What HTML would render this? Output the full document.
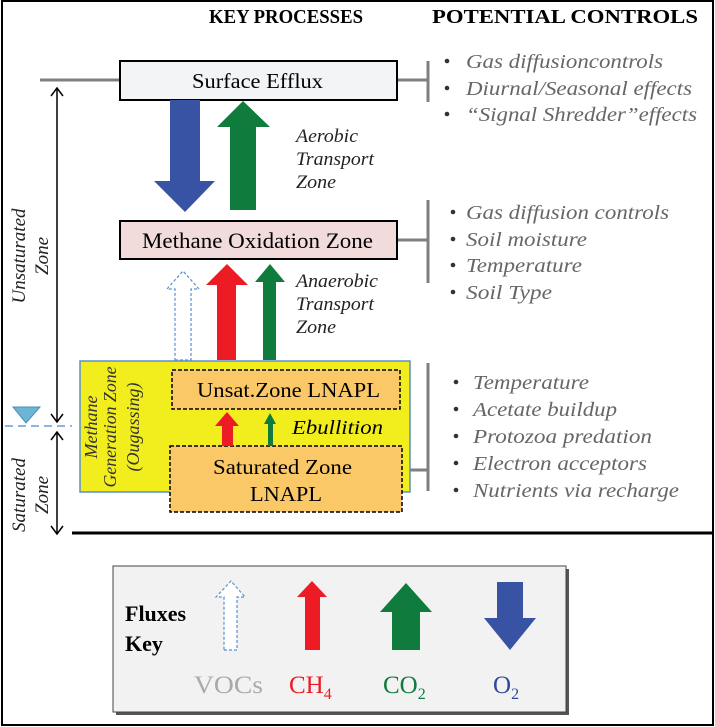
<!DOCTYPE html>
<html><head><meta charset="utf-8"><style>
html,body{margin:0;padding:0;background:#fff;}
svg{display:block;font-family:"Liberation Serif",serif;}
</style></head><body>
<svg width="715" height="727" viewBox="0 0 715 727">
<rect x="2" y="1" width="711" height="724" fill="#fff" stroke="#000" stroke-width="2"/>
<text x="209" y="23" font-size="20" font-weight="bold" textLength="154" lengthAdjust="spacingAndGlyphs">KEY PROCESSES</text>
<text x="432" y="23" font-size="20" font-weight="bold" textLength="266" lengthAdjust="spacingAndGlyphs">POTENTIAL CONTROLS</text>

<g stroke="#7f7f7f" stroke-width="3" fill="none">
<line x1="40" y1="80" x2="120" y2="80"/><line x1="397" y1="80" x2="428" y2="80"/><line x1="428" y1="61" x2="428" y2="102"/>
<line x1="397" y1="240" x2="428" y2="240"/><line x1="428" y1="200" x2="428" y2="283"/>
<line x1="410" y1="470" x2="428" y2="470"/><line x1="428" y1="363" x2="428" y2="491"/>
</g>

<rect x="120" y="61" width="277" height="39" fill="#f2f4f6" stroke="#000" stroke-width="2"/>
<text x="192" y="88" font-size="21" textLength="131" lengthAdjust="spacingAndGlyphs">Surface Efflux</text>

<polygon points="170,100 200,100 200,181 215,181 185,212 154,181 170,181" fill="#3953a4"/>
<polygon points="230,210 256,210 256,127 270,127 243,101 217,127 230,127" fill="#0f7c3d"/>
<g font-size="19" font-style="italic" fill="#222">
<text x="296" y="142" textLength="62" lengthAdjust="spacingAndGlyphs">Aerobic</text><text x="296" y="165" textLength="78" lengthAdjust="spacingAndGlyphs">Transport</text><text x="296" y="188" textLength="40" lengthAdjust="spacingAndGlyphs">Zone</text></g>

<rect x="120" y="221" width="277" height="38" fill="#f2dcdb" stroke="#000" stroke-width="2"/>
<text x="142" y="248" font-size="22" textLength="231" lengthAdjust="spacingAndGlyphs">Methane Oxidation Zone</text>

<polygon points="175,360 191,360 191,289 199,289 183,271 167,289 175,289" fill="#fff" stroke="#5b8fd1" stroke-width="1.2" stroke-dasharray="3,2"/>
<polygon points="217,360 236,360 236,285 248,285 227,264 206,285 217,285" fill="#ed1c24"/>
<polygon points="263,360 276,360 276,282 285,282 270,264 255,282 263,282" fill="#0f7c3d"/>
<g font-size="19" font-style="italic" fill="#222">
<text x="296" y="287" textLength="82" lengthAdjust="spacingAndGlyphs">Anaerobic</text><text x="296" y="310" textLength="78" lengthAdjust="spacingAndGlyphs">Transport</text><text x="296" y="333" textLength="40" lengthAdjust="spacingAndGlyphs">Zone</text></g>

<rect x="80" y="361" width="330" height="131" fill="#f2ee1e" stroke="#5b8fd1" stroke-width="1.5"/>
<g font-size="18" font-style="italic" fill="#333" text-anchor="middle" transform="translate(0,427) rotate(-90)">
<text x="0" y="97">Methane</text><text x="0" y="116" textLength="121" lengthAdjust="spacingAndGlyphs">Generation Zone</text><text x="0" y="139">(Ougassing)</text></g>
<rect x="172" y="370" width="228" height="39" fill="#fbc867" stroke="#000" stroke-width="1.5" stroke-dasharray="4,2"/>
<text x="197" y="397" font-size="21" textLength="183" lengthAdjust="spacingAndGlyphs">Unsat.Zone LNAPL</text>
<rect x="170" y="446" width="232" height="66" fill="#fbc867" stroke="#000" stroke-width="1.5" stroke-dasharray="4,2"/>
<text x="213" y="474" font-size="21" textLength="139" lengthAdjust="spacingAndGlyphs">Saturated Zone</text>
<text x="250" y="501" font-size="21" textLength="72" lengthAdjust="spacingAndGlyphs">LNAPL</text>
<polygon points="222,446 233,446 233,426 239,426 227,412 215,426 222,426" fill="#ed1c24"/>
<polygon points="268,446 273,446 273,424 276,424 270,413 264,424 268,424" fill="#0f7c3d"/>
<text x="292" y="434" font-size="20" font-style="italic" textLength="91" lengthAdjust="spacingAndGlyphs">Ebullition</text>

<g font-size="20" font-style="italic" fill="#666">
<text x="466" y="68" textLength="197" lengthAdjust="spacingAndGlyphs">Gas diffusioncontrols</text><text x="466" y="95" textLength="226" lengthAdjust="spacingAndGlyphs">Diurnal/Seasonal effects</text><text x="466" y="121" textLength="231" lengthAdjust="spacingAndGlyphs">“Signal Shredder”effects</text></g>
<g font-size="20" font-style="italic" fill="#666">
<text x="466" y="219" textLength="203" lengthAdjust="spacingAndGlyphs">Gas diffusion controls</text><text x="466" y="246" textLength="121" lengthAdjust="spacingAndGlyphs">Soil moisture</text><text x="466" y="272" textLength="116" lengthAdjust="spacingAndGlyphs">Temperature</text><text x="466" y="299" textLength="86" lengthAdjust="spacingAndGlyphs">Soil Type</text></g>
<g font-size="20" font-style="italic" fill="#666">
<text x="473" y="389" textLength="116" lengthAdjust="spacingAndGlyphs">Temperature</text><text x="473" y="416" textLength="144" lengthAdjust="spacingAndGlyphs">Acetate buildup</text><text x="473" y="443" textLength="179" lengthAdjust="spacingAndGlyphs">Protozoa predation</text><text x="473" y="470" textLength="174" lengthAdjust="spacingAndGlyphs">Electron acceptors</text><text x="473" y="497" textLength="206" lengthAdjust="spacingAndGlyphs">Nutrients via recharge</text></g>
<g fill="#333">
<circle cx="447" cy="61" r="2.3"/><circle cx="447" cy="88" r="2.3"/><circle cx="447" cy="114" r="2.3"/>
<circle cx="453" cy="212" r="2.3"/><circle cx="453" cy="239" r="2.3"/><circle cx="453" cy="265" r="2.3"/><circle cx="453" cy="292" r="2.3"/>
<circle cx="456" cy="382" r="2.3"/><circle cx="456" cy="409" r="2.3"/><circle cx="456" cy="436" r="2.3"/><circle cx="456" cy="463" r="2.3"/><circle cx="456" cy="490" r="2.3"/></g>

<g stroke="#000" stroke-width="1.5" fill="none">
<line x1="57" y1="88" x2="57" y2="422"/><polyline points="51,96 57,88 63,96"/><polyline points="51,414 57,422 63,414"/>
<line x1="57" y1="432" x2="57" y2="534"/><polyline points="51,440 57,432 63,440"/><polyline points="51,526 57,534 63,526"/></g>
<text transform="translate(0,256) rotate(-90)" font-size="19" font-style="italic" text-anchor="middle" fill="#222"><tspan x="0" y="25">Unsaturated</tspan><tspan x="0" y="48">Zone</tspan></text>
<text transform="translate(0,495) rotate(-90)" font-size="19" font-style="italic" text-anchor="middle" fill="#222"><tspan x="0" y="25">Saturated</tspan><tspan x="0" y="48">Zone</tspan></text>
<polygon points="13,407 40,407 26,423" fill="#6cb5d4" stroke="#4a8fb5" stroke-width="1"/>
<line x1="5" y1="426" x2="72" y2="426" stroke="#8fb3dd" stroke-width="2" stroke-dasharray="8,5"/>
<line x1="72" y1="533" x2="713" y2="533" stroke="#000" stroke-width="3"/>

<rect x="116" y="569" width="453" height="146" fill="#555"/>
<rect x="113" y="566" width="453" height="146" fill="#f2f2f2" stroke="#444" stroke-width="1"/>
<text x="125" y="621" font-size="22" font-weight="bold">Fluxes</text>
<text x="125" y="651" font-size="22" font-weight="bold">Key</text>
<polygon points="224,650 237,650 237,597 245,597 231,581 216,597 224,597" fill="#fff" stroke="#5b8fd1" stroke-width="1.2" stroke-dasharray="3,2"/>
<polygon points="305,650 320,650 320,597 327,597 312,581 297,597 305,597" fill="#ed1c24"/>
<polygon points="392,650 420,650 420,612 432,612 406,583 380,612 392,612" fill="#0f7c3d"/>
<polygon points="497,582 523,582 523,618 536,618 510,650 484,618 497,618" fill="#3953a4"/>
<text x="194" y="693" font-size="25" fill="#aaa" textLength="69" lengthAdjust="spacingAndGlyphs">VOCs</text>
<text x="289" y="693" font-size="25" fill="#ed1c24">CH<tspan font-size="16" dy="6">4</tspan></text>
<text x="383" y="693" font-size="25" fill="#0f7c3d">CO<tspan font-size="16" dy="6">2</tspan></text>
<text x="493" y="693" font-size="25" fill="#2e4a9e">O<tspan font-size="16" dy="6">2</tspan></text>
</svg>
</body></html>
